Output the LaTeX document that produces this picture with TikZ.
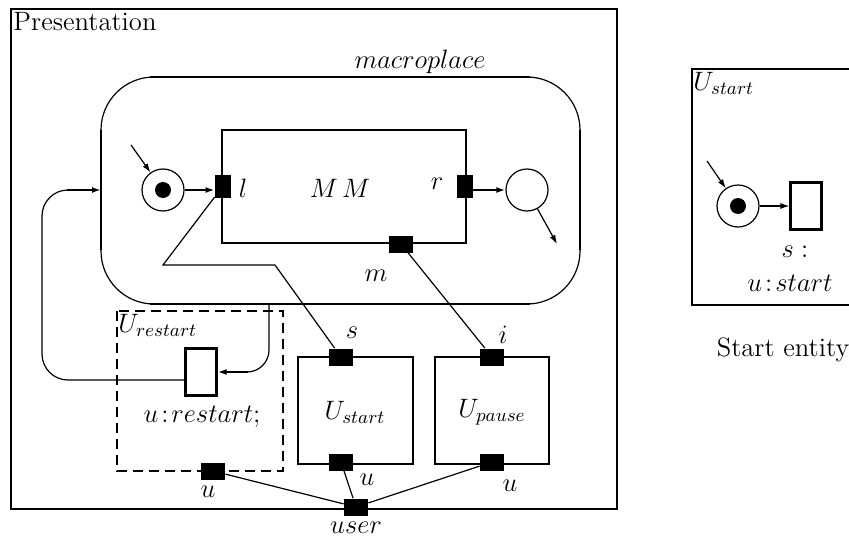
\RequirePackage{fix-cm}
\documentclass[tikz,border=0pt]{standalone}
\usetikzlibrary{arrows.meta}
\begin{document}
\begin{tikzpicture}[x=0.5pt,y=-0.5pt,
  bold/.style={line width=1.1pt},
  thinl/.style={line width=0.6pt},
  port/.style={fill=black,draw=none,inner sep=0pt,minimum width=#1},
  vport/.style={port=8pt,minimum height=11.5pt},
  hport/.style={port=12pt,minimum height=8.5pt},
  place/.style={circle,draw,thinl,minimum size=21pt,inner sep=0pt},
  token/.style={circle,fill=black,minimum size=8pt,inner sep=0pt},
  trans/.style={draw,bold,minimum width=15.5pt,minimum height=23.5pt,inner sep=0pt},
  arr/.style={-{Latex[length=4.5pt,width=3pt]}},
  lbl/.style={inner sep=0pt,font=\fontsize{13.3}{16}\selectfont}
]
\useasboundingbox (0,0) rectangle (849,540);

% Presentation frame
\draw[line width=1.3pt] (11,9) rectangle (617,509);
\node[lbl,anchor=north west] (pres) at (13,12) {Presentation};

% macroplace
\draw[thinl,rounded corners=26.5pt] (101,77) rectangle (580,304);
\draw[line width=0.9pt] (150,77) -- (530,77);
\draw[line width=0.9pt] (150,304) -- (530,304);
\draw[bold] (101,130) -- (101,250);
\draw[line width=0.8pt] (580,130) -- (580,250);
\node[lbl] (mpl) at (420,62) {$macroplace$};

% MM box
\draw[bold] (222,130) rectangle (466,243);
\node[lbl] (mm) at (340,188) {$M\,M$};
\node[vport] (l) at (223,186) {};
\node[vport] (r) at (465,186) {};
\node[hport] (m) at (401,244) {};
\node[lbl] (ll) at (243,188) {$l$};
\node[lbl] (rl) at (437,184) {$r$};
\node[lbl] (ml) at (376,276) {$m$};

% input place
\node[place] (ip) at (163,190) {};
\node[token] (ipt) at (163,190) {};
\coordinate (ipin) at (131,145);
\draw[thinl,arr] (ipin) -- (ip);
\draw[bold,arr] (ip) -- (ip -| l.west);

% output place
\node[place] (op) at (527,190) {};
\coordinate (opout) at (557,244);
\draw[bold,arr] (r.east |- op) -- (op);
\draw[thinl,arr] (op) -- (opout);

% U_restart dashed box
\draw[bold,dash pattern=on 5pt off 3pt] (117,311) rectangle (283,471);
\node[lbl,anchor=west] (urest) at (118,325) {$U_{restart}$};
\node[trans] (rt) at (201,372) {};
\node[lbl] (urestt) at (202,417) {$u\!:\!restart;$};
\node[hport] (ru) at (213,471) {};
\node[lbl] (rul) at (208,492) {$u$};

% loop back to macroplace
\coordinate (lpa) at (67,190);
\coordinate (lpb) at (248,372);
\draw[thinl,rounded corners=13pt] ([yshift=-4pt]rt.west) -- (42,380) -- (42,190) -- (lpa);
\draw[bold,arr] (lpa) -- (101,190);
\draw[thinl,rounded corners=11pt] (269,304) -- (269,372) -- (lpb);
\draw[bold,arr] (lpb) -- (rt.east);

% U_start box
\draw[bold] (298,357) rectangle (413,464);
\node[lbl] (ust) at (355,412) {$U_{start}$};
\node[hport] (ss) at (341,357) {};
\node[hport] (su) at (341,462) {};
\node[lbl] (sl) at (352,333) {$s$};
\node[lbl] (sul) at (367,480) {$u$};

% U_pause box
\draw[bold] (435,357) rectangle (549,464);
\node[lbl] (upa) at (492,412) {$U_{pause}$};
\node[hport] (pi) at (492,357) {};
\node[hport] (pu) at (492,462) {};
\node[lbl] (il) at (503,335) {$i$};
\node[lbl] (pul) at (510,486) {$u$};

% user port
\node[hport] (user) at (356,507) {};
\node[lbl] (userl) at (356,528) {$user$};

% connections
\coordinate (c1) at (163,265);
\coordinate (c2) at (275,265);
\draw[thinl] (l) -- (c1) -- (c2) -- (ss);
\draw[thinl] (m) -- (pi);
\draw[thinl] (ru) -- (user);
\draw[thinl] (su) -- (user);
\draw[thinl] (pu) -- (user);

% Start entity
\draw[bold] (860,69) -- (692,69) -- (692,305) -- (860,305);
\node[lbl,anchor=west] (usl) at (693,83) {$U_{start}$};
\node[place] (sp) at (738,206) {};
\node[token] (spt) at (738,206) {};
\coordinate (spin) at (707,161);
\draw[thinl,arr] (spin) -- (sp);
\node[trans] (st) at (806,206) {};
\draw[thinl,arr] (sp) -- (st);
\node[lbl] (sc) at (795,252) {$s:$};
\node[lbl] (usc) at (790,283) {$u\!:\!start$};
\node[lbl] (sent) at (783,350) {Start entity};
\end{tikzpicture}
\end{document}
